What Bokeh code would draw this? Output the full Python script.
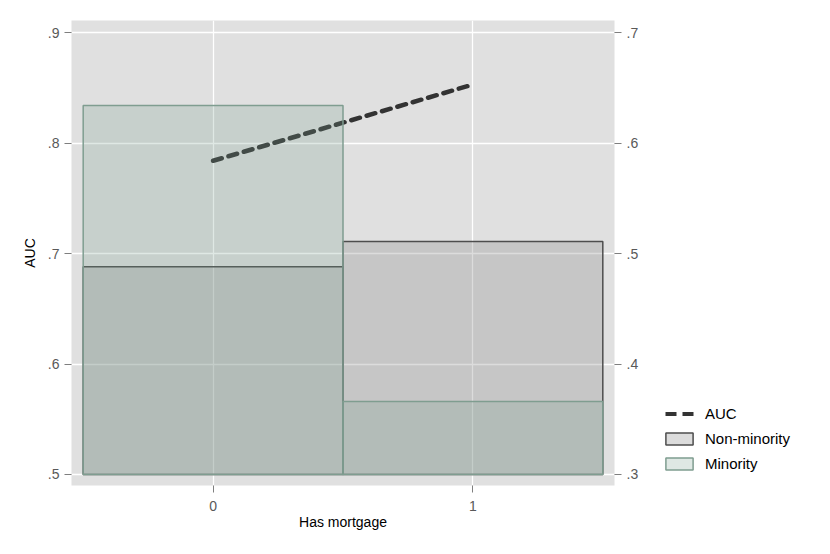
from bokeh.plotting import figure
from bokeh.layouts import row
from bokeh.models import (Range1d, LinearAxis, Legend, LegendItem,
                          CustomJSTickFormatter, FixedTicker, ColumnDataSource)
from bokeh.embed import file_html
from bokeh.resources import INLINE

# ---- data ----
mortgage = [0, 1]
x_tick_labels = ["0", "1"]
auc = [0.784, 0.853]
non_minority_share = [0.488, 0.511]
minority_share = [0.634, 0.366]
left_ticks = [0.5, 0.6, 0.7, 0.8, 0.9]
right_ticks = [0.3, 0.4, 0.5, 0.6, 0.7]
bar_base = 0.3
legend_labels = ["AUC", "Non-minority", "Minority"]

FONT = "Liberation Sans"
TICK_COLOR = "#595959"

LINE_STYLE = dict(line_color="#333333", line_width=4.5, line_dash="9 7", line_cap="round")
NON_STYLE = dict(fill_color="#8c8c8c", fill_alpha=0.3, line_color="#4d4d4d", line_width=1.5)
MIN_STYLE = dict(fill_color="#739a89", fill_alpha=0.23, line_color="#7f9d90", line_width=1.5)

p = figure(width=650, height=546, output_backend="svg", toolbar_location=None,
           x_range=Range1d(-0.545, 1.545), y_range=Range1d(0.49, 0.911),
           min_border_left=71, min_border_top=20, min_border_bottom=61,
           min_border_right=36)
p.extra_y_ranges = {"right": Range1d(0.29, 0.711)}

p.background_fill_color = "#e0e0e0"
p.border_fill_color = "white"
p.outline_line_color = None

src_line = ColumnDataSource(dict(x=mortgage, y=auc))
src_bars = ColumnDataSource(dict(x=mortgage, non=non_minority_share,
                                 mino=minority_share,
                                 base=[bar_base] * len(mortgage)))

p.line("x", "y", source=src_line, **LINE_STYLE)
p.vbar(x="x", width=1.0, bottom="base", top="non", source=src_bars,
       y_range_name="right", **NON_STYLE)
p.vbar(x="x", width=1.0, bottom="base", top="mino", source=src_bars,
       y_range_name="right", **MIN_STYLE)

fmt = CustomJSTickFormatter(code="return tick.toFixed(1).replace(/^0/, '');")

# left axis
yax = p.yaxis[0]
yax.ticker = FixedTicker(ticks=left_ticks)
yax.formatter = fmt
yax.axis_label = "AUC"

# right axis
rax = LinearAxis(y_range_name="right", ticker=FixedTicker(ticks=right_ticks),
                 formatter=fmt)
p.add_layout(rax, "right")

# x axis
xax = p.xaxis[0]
xax.ticker = FixedTicker(ticks=mortgage)
xax.major_label_overrides = {m: lab for m, lab in zip(mortgage, x_tick_labels)}
xax.axis_label = "Has mortgage"

for ax in [yax, rax, xax]:
    ax.axis_line_color = None
    ax.major_tick_line_color = "#7f7f7f"
    ax.major_tick_in = 0
    ax.major_tick_out = 7
    ax.minor_tick_line_color = None
    ax.major_label_text_font = FONT
    ax.major_label_text_font_size = "14px"
    ax.major_label_text_color = TICK_COLOR
    ax.major_label_standoff = 5
    ax.axis_label_text_font = FONT
    ax.axis_label_text_font_size = "14px"
    ax.axis_label_text_font_style = "normal"
    ax.axis_label_text_color = "black"
    ax.axis_label_standoff = 7

xax.major_label_standoff = 8
xax.axis_label_standoff = 0

p.xgrid.ticker = FixedTicker(ticks=mortgage)
p.ygrid.ticker = FixedTicker(ticks=left_ticks)
p.grid.grid_line_color = "white"
p.grid.grid_line_width = 1.3

# ---- legend panel (separate figure; its renderers hold no drawable data) ----
lg = figure(width=172, height=546, output_backend="svg", toolbar_location=None,
            x_range=Range1d(0, 1), y_range=Range1d(0, 1),
            x_axis_type=None, y_axis_type=None,
            min_border=0)
lg.outline_line_color = None
lg.grid.visible = False
lg.background_fill_color = "white"
lg.border_fill_color = "white"

nan = float("nan")
empty = ColumnDataSource(dict(x=[nan], y=[nan], top=[nan], base=[nan]))
l_line = lg.line("x", "y", source=empty, line_color="#333333", line_width=4,
                 line_dash="11 6", line_dash_offset=14, line_cap="butt")
l_non = lg.vbar(x="x", width=1.0, bottom="base", top="top", source=empty, **NON_STYLE)
l_min = lg.vbar(x="x", width=1.0, bottom="base", top="top", source=empty, **MIN_STYLE)

legend = Legend(items=[LegendItem(label=lab, renderers=[r])
                       for lab, r in zip(legend_labels, [l_line, l_non, l_min])],
                location=(12, 13), orientation="vertical",
                glyph_width=34, glyph_height=15, label_height=15,
                spacing=8, padding=0, margin=0, label_standoff=9,
                label_text_font=FONT, label_text_font_size="15px",
                label_text_color="black",
                border_line_color=None, background_fill_alpha=0)
lg.add_layout(legend, "center")

open("out.html", "w").write(file_html(row(p, lg), INLINE))
